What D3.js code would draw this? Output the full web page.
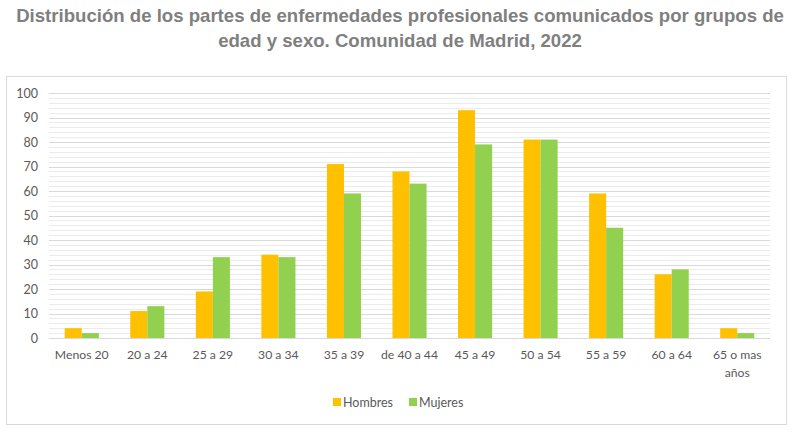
<!DOCTYPE html>
<html><head><meta charset="utf-8">
<script src="https://cdn.jsdelivr.net/npm/d3@7"></script>
<style>body{margin:0;background:#fff}svg{display:block}</style>
</head><body>
<svg id="chart" width="800" height="442"></svg>
<script>
const categories = ["Menos 20","20 a 24","25 a 29","30 a 34","35 a 39","de 40 a 44","45 a 49","50 a 54","55 a 59","60 a 64","65 o mas años"];
const seriesNames = ["Hombres","Mujeres"];
const hombres = [4,11,19,34,71,68,93,81,59,26,4];
const mujeres = [2,13,33,33,59,63,79,81,45,28,2];
const yTicks = [0,10,20,30,40,50,60,70,80,90,100];
const colors = ["#FFC000","#92D050"];

const svg = d3.select("#chart");
const font = "Lato,'Open Sans',sans-serif";

svg.append("text").attr("x",400).attr("y",22).attr("text-anchor","middle")
  .attr("font-family","'Liberation Sans Narrow','Arial Narrow',Arial,sans-serif").attr("font-weight","bold")
  .attr("font-size",18.6).attr("fill","#7f7f7f")
  .text("Distribución de los partes de enfermedades profesionales comunicados por grupos de");
svg.append("text").attr("x",400).attr("y",47).attr("text-anchor","middle")
  .attr("font-family","'Liberation Sans Narrow','Arial Narrow',Arial,sans-serif").attr("font-weight","bold")
  .attr("font-size",18.6).attr("fill","#7f7f7f")
  .text("edad y sexo. Comunidad de Madrid, 2022");

svg.append("rect").attr("x",6.5).attr("y",76.5).attr("width",780).attr("height",348)
  .attr("fill","none").attr("stroke","#d9d9d9").attr("stroke-width",1);

const x = d3.scaleBand().domain(categories).range([49,770]).paddingInner(0.48).paddingOuter(0.24);
const y = d3.scaleLinear().domain([0,100]).range([338,93]);

const minor = d3.range(0,101,2).filter(v=>v%10!==0);
svg.append("g").selectAll("line").data(minor).join("line")
  .attr("x1",49).attr("x2",770).attr("y1",d=>Math.round(y(d))+0.5).attr("y2",d=>Math.round(y(d))+0.5)
  .attr("stroke","#ebebeb").attr("stroke-width",1);
svg.append("g").selectAll("line").data(yTicks).join("line")
  .attr("x1",49).attr("x2",770).attr("y1",d=>Math.round(y(d))+0.5).attr("y2",d=>Math.round(y(d))+0.5)
  .attr("stroke","#d9d9d9").attr("stroke-width",1.2);

const yAxis = d3.axisLeft(y).tickValues(yTicks).tickSize(0).tickPadding(0);
const ga = svg.append("g").attr("transform","translate(38,0)").call(yAxis);
ga.select(".domain").remove();
ga.selectAll("text").attr("font-family",font).attr("font-size",12.5).attr("fill","#595959");

const x1 = d3.scaleBand().domain(seriesNames).range([0,x.bandwidth()]);
const data = [hombres, mujeres];
categories.forEach((c,i)=>{
  seriesNames.forEach((s,j)=>{
    svg.append("rect").attr("x",x(c)+x1(s)).attr("width",x1.bandwidth())
      .attr("y",y(data[j][i])).attr("height",y(0)-y(data[j][i])).attr("fill",colors[j]);
  });
});

const xAxis = d3.axisBottom(x).tickSize(0).tickPadding(0);
const gx = svg.append("g").attr("transform","translate(0,338)").call(xAxis);
gx.select(".domain").remove();
gx.selectAll("text").remove();
const labs = svg.append("g");
categories.forEach(c=>{
  const cx = x(c)+x.bandwidth()/2;
  let lines = c==="65 o mas años" ? ["65 o mas","años"] : [c];
  lines.forEach((t,k)=>{
    labs.append("text").attr("x",cx).attr("y",359+k*18).attr("text-anchor","middle")
      .attr("font-family",font).attr("font-size",12.2).attr("fill","#595959").text(t);
  });
});

const leg = svg.append("g");
const legItems = [{n:"Hombres",x:333},{n:"Mujeres",x:409}];
legItems.forEach((d,i)=>{
  leg.append("rect").attr("x",d.x).attr("y",398).attr("width",8).attr("height",8).attr("fill",colors[i]);
  leg.append("text").attr("x",d.x+10).attr("y",406.5).attr("font-family",font)
    .attr("font-size",12.5).attr("fill","#595959").text(d.n);
});
</script>
</body></html>
